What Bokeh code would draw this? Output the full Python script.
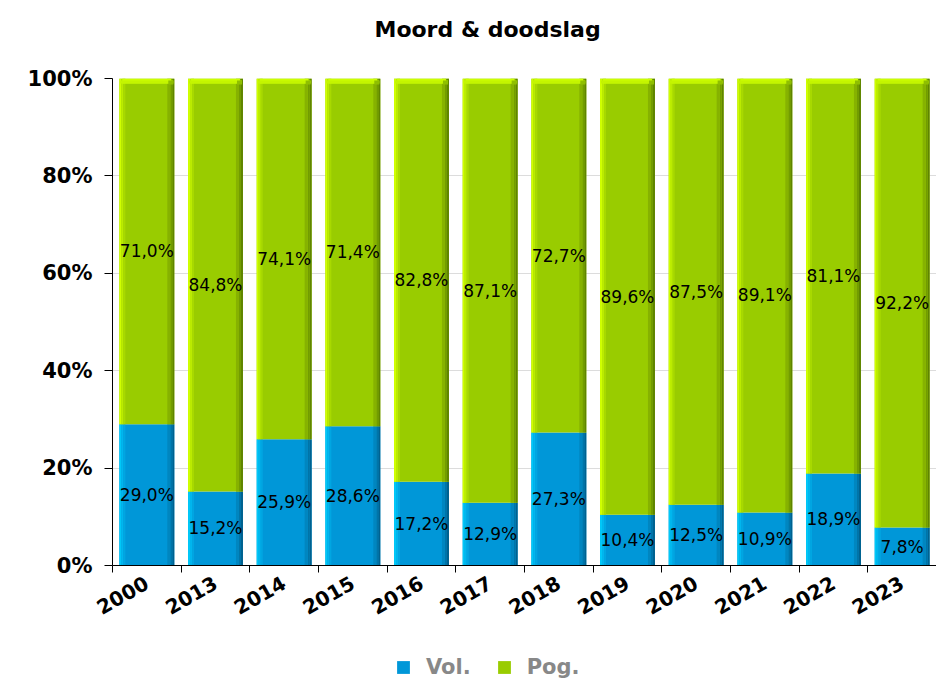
import numpy as np
from bokeh.plotting import figure
from bokeh.layouts import column
from bokeh.models import Range1d, FixedTicker, Legend, LegendItem, ColumnDataSource, Title
from bokeh.core.properties import value
from bokeh.embed import file_html
from bokeh.resources import INLINE

# ---- data ----
years = ["2000", "2013", "2014", "2015", "2016", "2017", "2018", "2019", "2020", "2021", "2022", "2023"]
vol = [29.0, 15.2, 25.9, 28.6, 17.2, 12.9, 27.3, 10.4, 12.5, 10.9, 18.9, 7.8]
pog = [71.0, 84.8, 74.1, 71.4, 82.8, 87.1, 72.7, 89.6, 87.5, 89.1, 81.1, 92.2]
y_ticks = [0, 20, 40, 60, 80, 100]
y_tick_labels = ["0%", "20%", "40%", "60%", "80%", "100%"]
series_names = ["Vol.", "Pog."]
series_colors = ["#0097d8", "#99cc00"]

FONT = "DejaVu Sans"
W = 936
H_MAIN, H_LEG = 627, 52
LEFT, TOP, BOTTOM = 112, 78, 62
frame_w = W - LEFT
frame_h = H_MAIN - TOP - BOTTOM
n = len(years)
UX = n / frame_w          # data units per pixel (x)
UY = 100.0 / frame_h      # data units per pixel (y)

p = figure(width=W, height=H_MAIN, output_backend="svg", toolbar_location=None,
           x_range=Range1d(0, n), y_range=Range1d(0, 100),
           min_border_left=LEFT, min_border_right=0, min_border_top=TOP,
           min_border_bottom=BOTTOM, background_fill_color="white",
           border_fill_color="white", outline_line_color=None)

x = np.arange(n) + 0.5
half = 0.4
vol_a = np.array(vol)
pog_a = np.array(pog)

def draw_segment(bottom, top, body, strips_left, strips_right):
    src = ColumnDataSource(dict(left=x - half, right=x + half, bottom=bottom, top=top))
    r = p.quad(left="left", right="right", bottom="bottom", top="top", source=src,
               fill_color=body, line_color=None)
    off = 0.0
    for w, c in strips_left:
        p.quad(left=x - half + off * UX, right=x - half + (off + w) * UX,
               bottom=bottom, top=top, fill_color=c, line_color=None)
        off += w
    off = 0.0
    for w, c in strips_right:
        p.quad(left=x + half - (off + w) * UX, right=x + half - off * UX,
               bottom=bottom, top=top, fill_color=c, line_color=None)
        off += w
    return r

draw_segment(np.zeros(n), vol_a, series_colors[0],
             [(2, "#00c8f8"), (2, "#00b6ee"), (2, "#00a6e2")],
             [(2, "#00618f"), (2, "#0074a8"), (3, "#0086c0")])
draw_segment(vol_a, vol_a + pog_a, series_colors[1],
             [(2, "#d0ff00"), (2, "#bbeb00"), (2, "#a8d900")],
             [(2, "#5f8400"), (2, "#729c00"), (3, "#86b200")])

# top bevel
tops = vol_a + pog_a
p.quad(left=x - half + 3 * UX, right=x + half - 3 * UX, top=tops, bottom=tops - 5 * UY,
       fill_color="#ccff00", line_color=None)
p.quad(left=x - half + 1 * UX, right=x + half - 1 * UX, top=tops - 2 * UY, bottom=tops - 5 * UY,
       fill_color="#c4f500", line_color=None)
p.quad(left=x + half - 6 * UX, right=x + half - 1 * UX, top=tops - 2 * UY, bottom=tops - 6 * UY,
       fill_color="#8fbf00", line_color=None)

# value labels
def fmt(v):
    return ("%.1f%%" % v).replace(".", ",")

lab_src = ColumnDataSource(dict(
    x=np.concatenate([x, x]),
    y=np.concatenate([vol_a / 2, vol_a + pog_a / 2]),
    t=[fmt(v) for v in vol] + [fmt(v) for v in pog]))
p.text(x="x", y="y", text="t", source=lab_src, text_align="center", text_baseline="middle",
       text_font=value(FONT), text_font_size="17px", text_color="#000000")

# axes
p.xgrid.visible = False
p.ygrid.grid_line_color = "#dcdcdc"
p.ygrid.ticker = FixedTicker(ticks=y_ticks)

xa = p.xaxis[0]
xa.ticker = FixedTicker(ticks=list(x), minor_ticks=list(range(n + 1)))
xa.major_label_overrides = {float(xx): yr for xx, yr in zip(x, years)}
xa.major_tick_out = 0
xa.major_tick_in = 0
xa.minor_tick_out = 7
xa.minor_tick_in = 0
xa.minor_tick_line_color = "#000000"
xa.axis_line_color = "#000000"
xa.major_label_orientation = 0.52
xa.major_label_text_font = FONT
xa.major_label_text_font_style = "bold"
xa.major_label_text_font_size = "20px"
xa.major_label_text_color = "#000000"
xa.major_label_standoff = 9

ya = p.yaxis[0]
ya.ticker = FixedTicker(ticks=y_ticks)
ya.major_label_overrides = {t: l for t, l in zip(y_ticks, y_tick_labels)}
ya.major_tick_out = 8
ya.major_tick_in = 0
ya.minor_tick_out = 0
ya.minor_tick_in = 0
ya.axis_line_color = "#000000"
ya.major_tick_line_color = "#000000"
ya.major_label_text_font = FONT
ya.major_label_text_font_style = "bold"
ya.major_label_text_font_size = "21px"
ya.major_label_text_color = "#000000"
ya.major_label_standoff = 12

# title (second, empty line lifts it away from the frame)
p.title = Title(text="Moord & doodslag\n ", align="left",
                text_font=FONT, text_font_style="bold", text_font_size="22px",
                text_color="#000000", offset=262, standoff=24)

# legend in a small strip below the chart
lg = figure(width=W, height=H_LEG, output_backend="svg", toolbar_location=None,
            x_range=Range1d(0, W), y_range=Range1d(0, H_LEG),
            min_border=0, outline_line_color=None, background_fill_color="white",
            border_fill_color="white")
lg.axis.visible = False
lg.grid.visible = False
offscreen = dict(left=[-20], right=[-10], bottom=[-20], top=[-10])
lr_vol = lg.quad(source=ColumnDataSource(offscreen), left="left", right="right",
                 bottom="bottom", top="top", fill_color=series_colors[0], line_color=None)
lr_pog = lg.quad(source=ColumnDataSource(offscreen), left="left", right="right",
                 bottom="bottom", top="top", fill_color=series_colors[1], line_color=None)
legend = Legend(items=[LegendItem(label=series_names[0], renderers=[lr_vol]),
                       LegendItem(label=series_names[1], renderers=[lr_pog])],
                orientation="horizontal", location=(283, 0),
                border_line_color=None, background_fill_alpha=0,
                label_text_font=FONT, label_text_font_style="bold",
                label_text_font_size="21px", label_text_color="#888888",
                glyph_width=16, glyph_height=16, spacing=25, margin=0, padding=2,
                label_standoff=15)
lg.add_layout(legend, "center")

open("out.html", "w").write(file_html(column(p, lg, spacing=0), INLINE))
